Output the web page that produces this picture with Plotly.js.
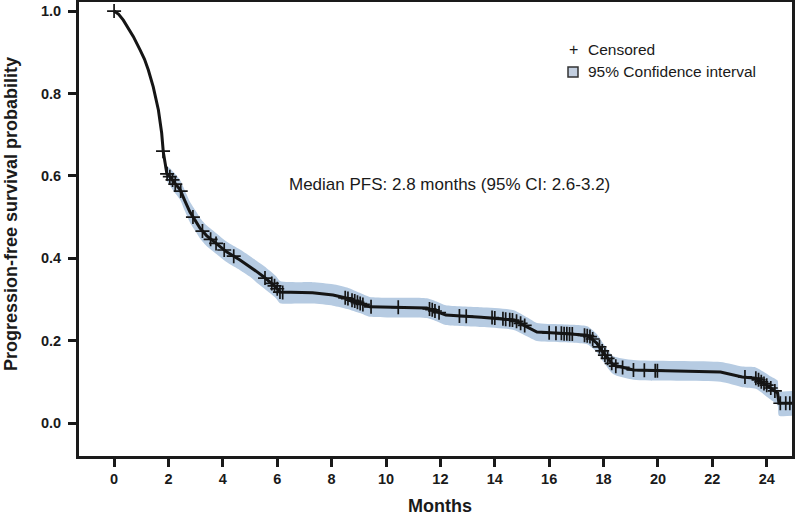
<!DOCTYPE html>
<html>
<head>
<meta charset="utf-8">
<script src="https://cdn.plot.ly/plotly-3.0.1.min.js"></script>
<style>html,body{margin:0;padding:0;background:#fff;}#chart{width:800px;height:517px;}</style>
</head>
<body>
<div id="chart"></div>
<script>
// Kaplan-Meier progression-free survival estimate (months, probability)
const months = [0, 0.17, 0.34, 0.52, 0.71, 0.96, 1.12, 1.26, 1.44, 1.63, 1.75, 1.81, 1.94, 2.06, 2.2, 2.43, 2.6, 2.79, 3.0, 3.16, 3.4, 3.6, 3.9, 4.15, 4.63, 5.0, 5.26, 5.5, 5.74, 5.95, 6.1, 6.84, 7.3, 8.05, 8.57, 9.04, 9.4, 11.5, 11.9, 12.2, 13.5, 14.7, 15.2, 15.55, 16.4, 17.4, 17.75, 18.0, 18.35, 19.1, 22.3, 23.1, 23.6, 24.1, 24.4, 24.45, 25.0];
const survival = [1.0, 0.992, 0.978, 0.96, 0.938, 0.905, 0.883, 0.857, 0.816, 0.76, 0.704, 0.658, 0.606, 0.597, 0.585, 0.566, 0.54, 0.512, 0.49, 0.473, 0.455, 0.444, 0.428, 0.415, 0.396, 0.38, 0.367, 0.355, 0.342, 0.33, 0.318, 0.316, 0.316, 0.311, 0.303, 0.291, 0.282, 0.279, 0.27, 0.262, 0.257, 0.25, 0.233, 0.221, 0.218, 0.213, 0.194, 0.17, 0.141, 0.129, 0.124, 0.112, 0.109, 0.087, 0.073, 0.048, 0.048];
const ciUpper = [1.0, 0.993, 0.98, 0.962, 0.94, 0.908, 0.886, 0.861, 0.821, 0.767, 0.713, 0.671, 0.624, 0.618, 0.608, 0.59, 0.565, 0.537, 0.515, 0.498, 0.48, 0.469, 0.453, 0.44, 0.421, 0.405, 0.393, 0.382, 0.369, 0.357, 0.345, 0.342, 0.342, 0.337, 0.329, 0.316, 0.306, 0.303, 0.294, 0.286, 0.281, 0.274, 0.256, 0.243, 0.24, 0.235, 0.216, 0.192, 0.163, 0.153, 0.148, 0.137, 0.135, 0.115, 0.103, 0.078, 0.078];
const ciLower = [1.0, 0.991, 0.976, 0.958, 0.936, 0.902, 0.88, 0.853, 0.811, 0.753, 0.695, 0.645, 0.588, 0.576, 0.562, 0.542, 0.515, 0.487, 0.465, 0.448, 0.43, 0.419, 0.403, 0.39, 0.371, 0.355, 0.34, 0.328, 0.315, 0.303, 0.291, 0.29, 0.29, 0.285, 0.277, 0.267, 0.258, 0.255, 0.246, 0.238, 0.233, 0.226, 0.21, 0.199, 0.196, 0.191, 0.172, 0.148, 0.119, 0.105, 0.1, 0.087, 0.083, 0.059, 0.043, 0.018, 0.018];

// Censored observations
const censorMonths = [0.0, 1.8, 1.95, 2.05, 2.15, 2.25, 2.45, 2.9, 3.25, 3.55, 3.75, 4.05, 4.4, 5.55, 5.8, 5.9, 6.0, 6.1, 6.2, 8.5, 8.6, 8.75, 8.85, 8.95, 9.05, 9.15, 9.45, 10.45, 11.6, 11.7, 11.8, 11.95, 12.7, 12.95, 13.9, 14.0, 14.3, 14.4, 14.55, 14.65, 14.8, 14.95, 15.1, 16.0, 16.25, 16.45, 16.55, 16.65, 16.75, 16.85, 17.3, 17.4, 17.5, 17.6, 17.85, 17.95, 18.05, 18.15, 18.3, 18.45, 18.7, 19.1, 19.5, 19.9, 19.98, 23.2, 23.6, 23.7, 23.8, 23.9, 24.0, 24.15, 24.3, 24.5, 24.7, 24.85];
const censorSurv = [1.0, 0.66, 0.605, 0.598, 0.59, 0.58, 0.563, 0.50, 0.466, 0.446, 0.436, 0.42, 0.405, 0.352, 0.339, 0.333, 0.326, 0.318, 0.317, 0.304, 0.302, 0.298, 0.296, 0.293, 0.29, 0.288, 0.282, 0.281, 0.277, 0.275, 0.272, 0.268, 0.26, 0.259, 0.256, 0.255, 0.253, 0.252, 0.251, 0.25, 0.247, 0.242, 0.237, 0.219, 0.218, 0.218, 0.217, 0.217, 0.216, 0.216, 0.213, 0.212, 0.21, 0.204, 0.185, 0.175, 0.165, 0.157, 0.145, 0.138, 0.135, 0.129, 0.128, 0.127, 0.127, 0.112, 0.109, 0.105, 0.1, 0.096, 0.092, 0.085, 0.078, 0.048, 0.048, 0.048];

const xTicks = [0, 2, 4, 6, 8, 10, 12, 14, 16, 18, 20, 22, 24];
const yTicks = [0.0, 0.2, 0.4, 0.6, 0.8, 1.0];
const medianText = 'Median PFS: 2.8 months (95% CI: 2.6-3.2)';
const xTitle = 'Months';
const yTitle = 'Progression-free survival probability';

const bandColor = '#b6cbe2';
const ink = '#151515';
const font = 'Liberation Sans, Arial, Helvetica, sans-serif';

const traces = [
  {x: months, y: ciLower, mode: 'lines', line: {width: 0, color: bandColor, shape: 'spline', smoothing: 0.6}, hoverinfo: 'skip', showlegend: false},
  {x: months, y: ciUpper, mode: 'lines', fill: 'tonexty', fillcolor: bandColor, line: {width: 0, color: bandColor, shape: 'spline', smoothing: 0.6}, hoverinfo: 'skip', showlegend: false},
  {x: months, y: survival, mode: 'lines', line: {color: ink, width: 3}, showlegend: false},
  {x: censorMonths, y: censorSurv, mode: 'markers', marker: {symbol: 'cross-thin', size: 10, color: ink, line: {color: ink, width: 1.7}}, showlegend: false}
];

function px(x) { return (x - 79) / 713; }
function py(y) { return (456 - y) / 454; }

const layout = {
  width: 800, height: 517,
  margin: {l: 79, r: 8, t: 2, b: 61},
  paper_bgcolor: '#fff', plot_bgcolor: '#fff',
  font: {family: font, color: '#1a1a1a'},
  showlegend: false,
  xaxis: {
    range: [-1.29, 24.93], tickvals: xTicks, ticktext: xTicks.map(String),
    showgrid: false, zeroline: false, showline: true, mirror: true, linecolor: '#1a1a1a', linewidth: 3,
    ticks: 'outside', ticklen: 8, tickwidth: 3, tickcolor: '#1a1a1a',
    tickfont: {family: font, size: 14.5, color: '#1a1a1a', weight: 'bold'}
  },
  yaxis: {
    range: [-0.08, 1.022], tickvals: yTicks, ticktext: yTicks.map(v => v.toFixed(1)),
    showgrid: false, zeroline: false, showline: true, mirror: true, linecolor: '#1a1a1a', linewidth: 3,
    ticks: 'outside', ticklen: 8, tickwidth: 3, tickcolor: '#1a1a1a',
    tickfont: {family: font, size: 14.5, color: '#1a1a1a', weight: 'bold'},
    ticklabelstandoff: 4
  },
  annotations: [
    {xref: 'paper', yref: 'paper', x: px(440), y: py(506), text: '<b>' + xTitle + '</b>', showarrow: false, xanchor: 'center', yanchor: 'middle', font: {family: font, size: 18, color: '#1a1a1a'}},
    {xref: 'paper', yref: 'paper', x: px(11), y: py(214), text: '<b>' + yTitle + '</b>', textangle: -90, showarrow: false, xanchor: 'center', yanchor: 'middle', font: {family: font, size: 18, color: '#1a1a1a'}},
    {xref: 'paper', yref: 'paper', x: px(450), y: py(184), text: medianText, showarrow: false, xanchor: 'center', yanchor: 'middle', font: {family: font, size: 17, color: '#1a1a1a'}},
    {xref: 'paper', yref: 'paper', x: px(573), y: py(49), text: '+', showarrow: false, xanchor: 'center', yanchor: 'middle', font: {family: font, size: 16, color: '#1a1a1a'}},
    {xref: 'paper', yref: 'paper', x: px(586), y: py(49), text: 'Censored', showarrow: false, xanchor: 'left', yanchor: 'middle', font: {family: font, size: 15.5, color: '#1a1a1a'}},
    {xref: 'paper', yref: 'paper', x: px(586), y: py(72), text: '95% Confidence interval', showarrow: false, xanchor: 'left', yanchor: 'middle', font: {family: font, size: 15.5, color: '#1a1a1a'}}
  ],
  shapes: [
    {type: 'rect', xref: 'paper', yref: 'paper', x0: px(568), x1: px(578), y0: py(77), y1: py(67), fillcolor: '#c3cfe0', line: {color: '#333', width: 1.5}}
  ]
};

Plotly.newPlot('chart', traces, layout, {staticPlot: true, displayModeBar: false});
</script>
</body>
</html>
